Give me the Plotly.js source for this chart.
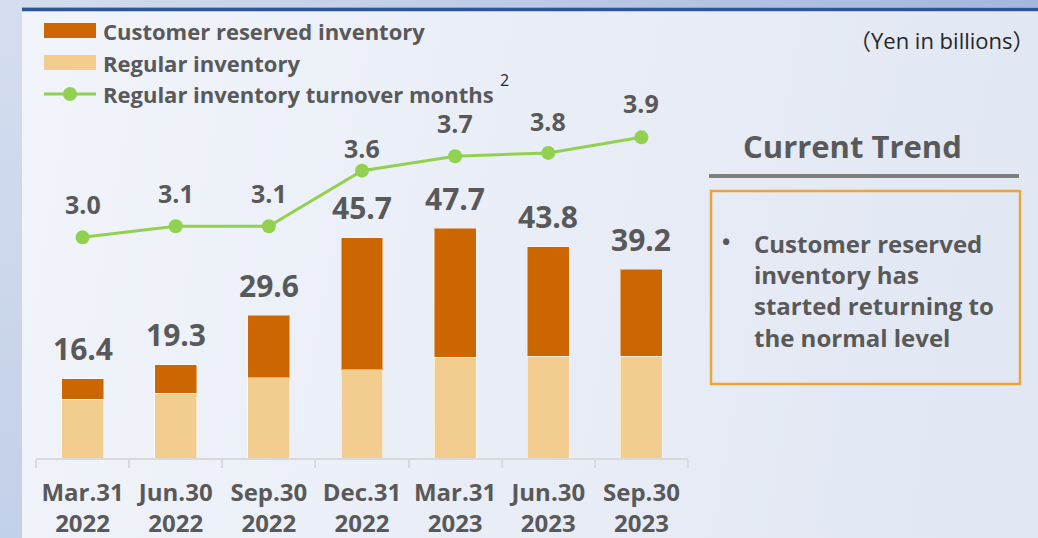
<!DOCTYPE html>
<html>
<head>
<meta charset="utf-8">
<script src="https://cdn.plot.ly/plotly-3.0.1.min.js"></script>
<style>
  html, body { margin: 0; padding: 0; }
  #wrap { position: relative; width: 1038px; height: 538px; overflow: hidden; }
  #left { position: absolute; left: 0; top: 0; width: 22px; height: 538px; background: linear-gradient(to bottom, #d5def0, #c3d0e9); }
  #topband { position: absolute; left: 22px; top: 0; width: 1016px; height: 8px; background: linear-gradient(to right, #d3ddee, #a3b7dd); }
  #rule { position: absolute; left: 22px; top: 7px; width: 1016px; height: 5px; background: #2f5597; border-top: 1px solid #8fa6d2; border-bottom: 1px solid #b9c8e6; box-sizing: border-box; }
  #main { position: absolute; left: 22px; top: 12px; width: 1016px; height: 526px; background: linear-gradient(100deg, #f1f4fa 0%, #e9edf6 50%, #e0e7f3 100%); }
  #chart { position: absolute; left: 0; top: 0; width: 1038px; height: 538px; }
</style>
</head>
<body>
<div id="wrap">
  <div id="left"></div>
  <div id="topband"></div>
  <div id="rule"></div>
  <div id="main"></div>
  <div id="chart"></div>
</div>
<script>
// ---- data ----
const categories = ["Mar.31 2022", "Jun.30 2022", "Sep.30 2022", "Dec.31 2022", "Mar.31 2023", "Jun.30 2023", "Sep.30 2023"];
const tickLabels = ["Mar.31<br>2022", "Jun.30<br>2022", "Sep.30<br>2022", "Dec.31<br>2022", "Mar.31<br>2023", "Jun.30<br>2023", "Sep.30<br>2023"];
const regularInventory = [12.2, 13.4, 16.7, 18.3, 20.9, 21.1, 21.1];
const customerReserved = [4.2, 5.9, 12.9, 27.4, 26.8, 22.7, 18.1];
const totalInventory = [16.4, 19.3, 29.6, 45.7, 47.7, 43.8, 39.2];
const turnoverMonths = [3.0, 3.1, 3.1, 3.6, 3.73, 3.76, 3.9];

const seriesNames = ["Customer reserved inventory", "Regular inventory", "Regular inventory turnover months"];
const unitNote = "\uFF08Yen in billions\uFF09";
const trendTitle = "Current Trend";
const trendText = "Customer reserved<br>inventory has<br>started returning to<br>the normal level";

// ---- styling / layout helpers ----
const W = 1038, H = 538;
const L = 36, R = 688, T = 110, B = 458;
const px = v => (v - L) / (R - L);
const py = v => (B - v) / (B - T);
const FONT = "Open Sans, Noto Sans, Noto Sans CJK JP, sans-serif";
const GREY = "#595959";
const C_RES = "#cc6600", C_REG = "#f2cd8f", C_LINE = "#92d050";

const traces = [
  {
    type: "bar", x: categories, y: regularInventory, name: seriesNames[1],
    marker: { color: C_REG, line: { color: "rgba(255,255,255,0.55)", width: 1 } },
    hoverinfo: "y+name"
  },
  {
    type: "bar", x: categories, y: customerReserved, name: seriesNames[0],
    marker: { color: C_RES, line: { color: "rgba(255,255,255,0.45)", width: 1 } },
    hoverinfo: "y+name"
  },
  {
    type: "scatter", mode: "lines+markers", x: categories, y: turnoverMonths, yaxis: "y2",
    name: seriesNames[2],
    line: { color: C_LINE, width: 3 },
    marker: { color: C_LINE, size: 14 },
    hoverinfo: "y+name"
  }
];

const annotations = [];
// bar totals
categories.forEach((c, i) => {
  annotations.push({
    x: c, y: totalInventory[i], xref: "x", yref: "y",
    text: totalInventory[i].toFixed(1), showarrow: false,
    yanchor: "middle", yshift: 30,
    font: { family: FONT, size: 30, color: GREY, weight: "bold" }
  });
});
// turnover labels
const lineShift = [33, 33, 33, 23, 33, 32, 34];
categories.forEach((c, i) => {
  annotations.push({
    x: c, y: turnoverMonths[i], xref: "x", yref: "y2",
    text: turnoverMonths[i].toFixed(1), showarrow: false,
    yanchor: "middle", yshift: lineShift[i],
    font: { family: FONT, size: 25, color: GREY, weight: "bold" }
  });
});
// legend texts
const legY = [31, 63, 94];
seriesNames.forEach((n, i) => {
  annotations.push({
    xref: "paper", yref: "paper", x: px(101), y: py(legY[i]),
    xanchor: "left", yanchor: "middle", showarrow: false, text: n,
    font: { family: FONT, size: 22, color: GREY, weight: "bold" }
  });
});
annotations.push({
  xref: "paper", yref: "paper", x: px(498), y: py(80), xanchor: "left", yanchor: "middle",
  showarrow: false, text: "2", font: { family: FONT, size: 16, color: "#262626" }
});
annotations.push({
  xref: "paper", yref: "paper", x: px(1037), y: py(40), xanchor: "right", yanchor: "middle",
  showarrow: false, text: unitNote, font: { family: FONT, size: 22, color: "#262626" }
});
annotations.push({
  xref: "paper", yref: "paper", x: px(852), y: py(146), xanchor: "center", yanchor: "middle",
  showarrow: false, text: trendTitle, font: { family: FONT, size: 31, color: GREY, weight: "bold" }
});
annotations.push({
  xref: "paper", yref: "paper", x: px(720), y: py(241), xanchor: "left", yanchor: "middle",
  showarrow: false, text: "\u2022", font: { family: FONT, size: 22, color: GREY, weight: "bold" }
});
annotations.push({
  xref: "paper", yref: "paper", x: px(752), y: py(225), xanchor: "left", yanchor: "top", align: "left",
  showarrow: false, text: trendText, font: { family: FONT, size: 24, color: GREY, weight: "bold" }
});

const shapes = [
  // legend swatches
  { type: "rect", xref: "paper", yref: "paper", x0: px(44), x1: px(96), y0: py(23), y1: py(38), fillcolor: C_RES, line: { width: 0 } },
  { type: "rect", xref: "paper", yref: "paper", x0: px(44), x1: px(96), y0: py(55), y1: py(70), fillcolor: C_REG, line: { width: 0 } },
  { type: "line", xref: "paper", yref: "paper", x0: px(44), x1: px(96), y0: py(94), y1: py(94), line: { color: C_LINE, width: 3 } },
  { type: "circle", xref: "paper", yref: "paper", x0: px(63), x1: px(77), y0: py(87), y1: py(101), fillcolor: C_LINE, line: { width: 0 } },
  // current trend underline
  { type: "line", xref: "paper", yref: "paper", x0: px(709), x1: px(1019), y0: py(176), y1: py(176), line: { color: "#7f7f7f", width: 4 } },
  // orange box
  { type: "rect", xref: "paper", yref: "paper", x0: px(711), x1: px(1020), y0: py(191), y1: py(384), line: { color: "#e9a538", width: 2.5 }, fillcolor: "rgba(0,0,0,0)" }
];

const layout = {
  width: W, height: H,
  margin: { l: L, r: W - R, t: T, b: H - B, pad: 0 },
  paper_bgcolor: "rgba(0,0,0,0)", plot_bgcolor: "rgba(0,0,0,0)",
  barmode: "stack", bargap: 0.55,
  showlegend: false,
  font: { family: FONT, color: GREY },
  xaxis: {
    type: "category", range: [-0.5, 6.5],
    tickmode: "array", tickvals: categories, ticktext: tickLabels,
    tickson: "boundaries", ticks: "outside", ticklen: 8, tickwidth: 2, tickcolor: "#d9d9d9",
    showline: true, linecolor: "#d9d9d9", linewidth: 2,
    showgrid: false, zeroline: false, fixedrange: true,
    ticklabelstandoff: 12,
    tickfont: { family: FONT, size: 24, color: GREY, weight: "bold" }
  },
  yaxis: { range: [0, 72.2], visible: false, fixedrange: true, showgrid: false, zeroline: false },
  yaxis2: { range: [1.014, 4.146], overlaying: "y", side: "right", visible: false, fixedrange: true, showgrid: false, zeroline: false },
  annotations: annotations,
  shapes: shapes
};

Plotly.newPlot("chart", traces, layout, { displayModeBar: false, staticPlot: true });
</script>
</body>
</html>
